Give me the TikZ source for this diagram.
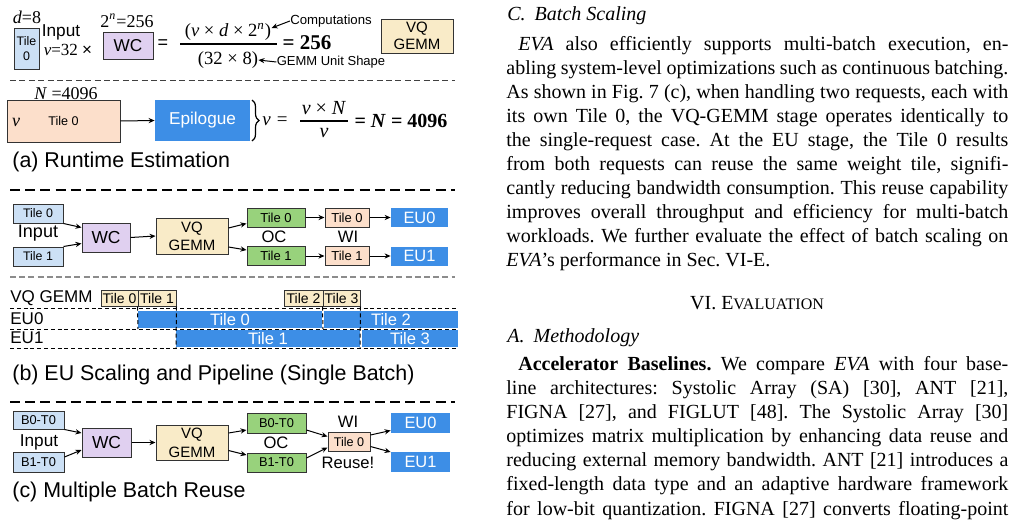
\documentclass[tikz,border=0pt]{standalone}
\usepackage{fontspec}
\setmainfont{Liberation Serif}
\setsansfont{Liberation Sans}
\usetikzlibrary{arrows.meta,calc,decorations.pathreplacing}
\definecolor{tblue}{HTML}{CCE0F5}
\definecolor{tlav}{HTML}{E0D0F0}
\definecolor{tyel}{HTML}{F9EBC8}
\definecolor{tsal}{HTML}{FCDFCB}
\definecolor{tgrn}{HTML}{98D27C}
\definecolor{teu}{HTML}{3D8EE6}
\definecolor{tbrd}{HTML}{333333}
\newcommand{\szf}[2]{\fontsize{#1}{#2}\selectfont}
\newcommand{\jl}[1]{\hbox to 251pt{#1}}
\frenchspacing
\begin{document}
\begin{tikzpicture}[x=0.5pt,y=-0.5pt,
  bx/.style={draw=tbrd, line width=0.5pt, inner sep=0pt, align=center},
  eu/.style={fill=teu, inner sep=0pt, text=white},
  lbl/.style={inner sep=0pt},
  arr/.style={-{Stealth[length=3pt,width=2.6pt]}, line width=0.5pt},
  thindash/.style={line width=0.5pt, draw=black!75, dash pattern=on 3pt off 1.7pt},
  thickdash/.style={line width=0.8pt, dash pattern=on 5pt off 2.6pt},
  graydash/.style={line width=0.9pt, draw=black!45, dash pattern=on 3pt off 1.6pt},
  tldash/.style={line width=0.5pt, dash pattern=on 2pt off 1.4pt},
  txt/.style={anchor=base west, inner sep=0pt, font=\rmfamily\szf{10}{12}\frenchspacing}]
\useasboundingbox (0,0) rectangle (1016,530);
\fill[white] (0,0) rectangle (1016,530);

% ---------------- (a) ----------------
\node[lbl, font=\rmfamily\szf{9}{10}] (dlab) at (27,17) {\textit{d}=8};
\node[bx, fill=tblue, minimum width=12.5pt, minimum height=20.5pt, font=\sffamily\szf{6.2}{7.5}] (tilea) at (26.5,48.5) {Tile\\0};
\node[lbl, font=\sffamily\szf{8.6}{10}] (inputa) at (61,32) {Input};
\node[lbl, font=\rmfamily\szf{8.5}{10}] (va) at (68,50) {\textit{v}=32 {\sffamily ×}};
\node[lbl, font=\rmfamily\szf{9}{10}] (ntop) at (127,21) {2\textsuperscript{\itshape n}=256};
\node[bx, fill=tlav, minimum width=25pt, minimum height=13.5pt, font=\sffamily\szf{8.6}{10}] (wca) at (128,45.5) {WC};
\node[lbl, font=\sffamily\szf{9}{10}] (eqa) at (163,44) {=};
\node[lbl, font=\rmfamily\szf{9.3}{10}] (numa) at (228,32) {(\textit{v} × \textit{d} × 2\textsuperscript{\itshape n})};
\node[lbl, font=\rmfamily\szf{9.3}{10}] (dena) at (228,60) {(32 × 8)};
\draw[line width=0.6pt] (180,44) -- (277,44);
\node[lbl, font=\rmfamily\bfseries\szf{10.5}{12}] (resa) at (307,43) {= 256};
\node[lbl, font=\sffamily\szf{6.6}{8}] (comp) at (331,21) {Computations};
\node[lbl, font=\sffamily\szf{6.5}{8}] (gus) at (331,62) {GEMM Unit Shape};
\draw[arr] (comp.west) -- ($(numa.east)+(0,-4)$);
\draw[arr] (gus.west) -- (dena.east);
\node[bx, fill=tyel, minimum width=36pt, minimum height=17pt, font=\sffamily\szf{7.5}{8.5}] (vqa) at (417,36) {VQ\\GEMM};
\draw[thindash] (10,80) -- (455,80);

\node[lbl, font=\rmfamily\szf{9}{10}] (nlab) at (66,94) {\textit{N} =4096};
\node[bx, fill=tsal, minimum width=56.5pt, minimum height=21pt, font=\sffamily\szf{6.3}{7}] (tsa) at (63.5,121) {Tile 0};
\node[lbl, font=\rmfamily\itshape\szf{9}{10}] (vin) at (16,122) {v};
\node[eu, minimum width=47.5pt, minimum height=20.5pt, font=\sffamily\szf{8.6}{10}] (epi) at (202.5,120.5) {Epilogue};
\draw[arr] (tsa.east) -- (epi.west);
\draw[decorate, decoration={brace, amplitude=3.5pt}, line width=0.6pt] (252,100) -- (252,141);
\node[lbl, font=\rmfamily\szf{9.5}{10}] (veq) at (275,121) {\textit{v}\hspace{3pt}=};
\node[lbl, font=\rmfamily\szf{10}{11}] (numb) at (324,108) {\textit{v} × \textit{N}};
\node[lbl, font=\rmfamily\szf{10}{11}] (denb) at (324,133) {\textit{v}};
\draw[line width=0.6pt] (300,121) -- (348,121);
\node[lbl, font=\rmfamily\bfseries\szf{10}{11}] (resb) at (401,121) {= \textit{N} = 4096};
\node[lbl, anchor=west, font=\sffamily\szf{10.7}{12}] (capa) at (12,162) {(a) Runtime Estimation};

% ---------------- (b) ----------------
\draw[thickdash] (10,190) -- (455,190);
\node[bx, fill=tblue, minimum width=25pt, minimum height=9.5pt, font=\sffamily\szf{6.2}{7}] (in0) at (38,213.5) {Tile 0};
\node[bx, fill=tblue, minimum width=25pt, minimum height=9.5pt, font=\sffamily\szf{6.2}{7}] (in1) at (38,256.5) {Tile 1};
\node[lbl, font=\sffamily\szf{9}{10}] (inpb) at (38,233) {Input};
\node[bx, fill=tlav, minimum width=24pt, minimum height=14.5pt, font=\sffamily\szf{8.7}{10}] (wcb) at (106,237.5) {WC};
\node[bx, fill=tyel, minimum width=36pt, minimum height=18pt, font=\sffamily\szf{7.5}{9}] (vqb) at (192,236) {VQ\\GEMM};
\node[bx, fill=tgrn, minimum width=29pt, minimum height=9.5pt, font=\sffamily\szf{6.5}{7}] (oc0) at (276,217.5) {Tile 0};
\node[bx, fill=tgrn, minimum width=29pt, minimum height=9.5pt, font=\sffamily\szf{6.5}{7}] (oc1) at (276,256) {Tile 1};
\node[lbl, font=\sffamily\szf{8.3}{9}] (oclab) at (274,237) {OC};
\node[bx, fill=tsal, minimum width=22pt, minimum height=9.5pt, font=\sffamily\szf{6.5}{7}] (wi0) at (347,217.5) {Tile 0};
\node[bx, fill=tsal, minimum width=22pt, minimum height=9.5pt, font=\sffamily\szf{6.5}{7}] (wi1) at (347,256) {Tile 1};
\node[lbl, font=\sffamily\szf{8.3}{9}] (wilab) at (348,237) {WI};
\node[eu, minimum width=28.5pt, minimum height=9.5pt, font=\sffamily\szf{8.2}{9}] (eub0) at (419.5,217.5) {EU0};
\node[eu, minimum width=28.5pt, minimum height=9.5pt, font=\sffamily\szf{8.2}{9}] (eub1) at (419.5,256) {EU1};
\draw[arr] (in0.south east) -- ($(wcb.west)+(0,-10)$);
\draw[arr] (in1.north east) -- ($(wcb.west)+(0,6)$);
\draw[arr] (wcb.east) -- (vqb.west);
\draw[arr] ($(vqb.east)+(0,-8)$) -- ($(oc0.west)+(0,6)$);
\draw[arr] ($(vqb.east)+(0,11)$) -- ($(oc1.west)+(0,-6)$);
\draw[arr] (oc0.east) -- (wi0.west);
\draw[arr] (oc1.east) -- (wi1.west);
\draw[arr] (wi0.east) -- (eub0.west);
\draw[arr] (wi1.east) -- (eub1.west);

% timeline
\draw[graydash] (10,277) -- (455,277);
\node[lbl, anchor=west, font=\sffamily\szf{8.5}{10}] (tlvq) at (10,298) {VQ GEMM};
\node[lbl, anchor=west, font=\sffamily\szf{8.5}{10}] (tleu0) at (10,319) {EU0};
\node[lbl, anchor=west, font=\sffamily\szf{8.5}{10}] (tleu1) at (10,338) {EU1};
\node[bx, fill=tyel, minimum width=18.5pt, minimum height=8pt, font=\sffamily\szf{7}{8}] (ty0) at (119.5,298) {Tile 0};
\node[bx, fill=tyel, minimum width=19pt, minimum height=8pt, font=\sffamily\szf{7}{8}] (ty1) at (157,298) {Tile 1};
\node[bx, fill=tyel, minimum width=19.5pt, minimum height=8pt, font=\sffamily\szf{7}{8}] (ty2) at (303.5,298) {Tile 2};
\node[bx, fill=tyel, minimum width=18.5pt, minimum height=8pt, font=\sffamily\szf{7}{8}] (ty3) at (341.5,298) {Tile 3};
\node[eu, minimum width=92pt, minimum height=8.5pt, font=\sffamily\szf{8.3}{9}] (e0t0) at (230,319.5) {Tile 0};
\node[eu, minimum width=67pt, minimum height=8.5pt, font=\sffamily\szf{8.3}{9}] (e0t2) at (391,319.5) {Tile 2};
\node[eu, minimum width=92pt, minimum height=8.5pt, font=\sffamily\szf{8.3}{9}] (e1t1) at (268,338.5) {Tile 1};
\node[eu, minimum width=48pt, minimum height=8.5pt, font=\sffamily\szf{8.3}{9}] (e1t3) at (410,338.5) {Tile 3};
\draw[tldash] (10,308) -- (458,308);
\draw[tldash] (10,329) -- (458,329);
\draw[tldash] (10,348) -- (458,348);
\draw[tldash] (ty1.south west) -- (138,329);
\draw[tldash] (ty1.south east) -- (176,348);
\draw[tldash] (ty3.south west) -- (323,329);
\draw[tldash] (ty3.south east) -- (360,348);
\node[lbl, anchor=west, font=\sffamily\szf{10.7}{12}] (capb) at (12,375) {(b) EU Scaling and Pipeline (Single Batch)};

% ---------------- (c) ----------------
\draw[thickdash] (10,402) -- (455,402);
\node[bx, fill=tblue, minimum width=25.5pt, minimum height=9pt, font=\sffamily\szf{6.4}{7}] (b0) at (38.5,420) {B0-T0};
\node[bx, fill=tblue, minimum width=25.5pt, minimum height=10pt, font=\sffamily\szf{6.4}{7}] (b1) at (38.5,462) {B1-T0};
\node[lbl, font=\sffamily\szf{8.6}{10}] (inpc) at (39,442) {Input};
\node[bx, fill=tlav, minimum width=24.5pt, minimum height=14.5pt, font=\sffamily\szf{8.7}{10}] (wcc) at (106.5,442.5) {WC};
\node[bx, fill=tyel, minimum width=36pt, minimum height=17.5pt, font=\sffamily\szf{7.5}{9.5}] (vqc) at (192,442.5) {VQ\\GEMM};
\node[bx, fill=tgrn, minimum width=29.5pt, minimum height=10pt, font=\sffamily\szf{6.4}{7}] (g0) at (276.5,423) {B0-T0};
\node[bx, fill=tgrn, minimum width=29.5pt, minimum height=9.5pt, font=\sffamily\szf{6.4}{7}] (g1) at (276.5,462.5) {B1-T0};
\node[lbl, font=\sffamily\szf{8.3}{9}] (occ) at (276,443) {OC};
\node[lbl, font=\sffamily\szf{8.3}{9}] (wic) at (348,422) {WI};
\node[bx, fill=tsal, minimum width=21pt, minimum height=9.5pt, font=\sffamily\szf{6.3}{7}] (tc) at (349,441.5) {Tile 0};
\node[lbl, font=\sffamily\szf{8.3}{9}] (reuse) at (348,463) {Reuse!};
\node[eu, minimum width=29.5pt, minimum height=10pt, font=\sffamily\szf{8.2}{9}] (euc0) at (420.5,423) {EU0};
\node[eu, minimum width=29.5pt, minimum height=10pt, font=\sffamily\szf{8.2}{9}] (euc1) at (420.5,462) {EU1};
\draw[arr] (b0.south east) -- ($(wcc.west)+(0,-9.5)$);
\draw[arr] ($(b1.east)+(0,-5)$) -- ($(wcc.west)+(0,7.5)$);
\draw[arr] (wcc.east) -- (vqc.west);
\draw[arr] ($(vqc.east)+(0,-9.5)$) -- ($(g0.west)+(0,7)$);
\draw[arr] ($(vqc.east)+(0,8)$) -- ($(g1.west)+(0,-7.5)$);
\draw[arr] ($(g0.east)+(0,7)$) -- ($(tc.west)+(0,-5)$);
\draw[arr] ($(g1.east)+(0,-4.5)$) -- ($(tc.west)+(0,6)$);
\draw[arr] ($(tc.east)+(0,-6.5)$) -- ($(euc0.west)+(0,7.5)$);
\draw[arr] ($(tc.east)+(0,5)$) -- ($(euc1.west)+(0,-10)$);
\node[lbl, anchor=west, font=\sffamily\szf{10.7}{12}] (capc) at (12,492) {(c) Multiple Batch Reuse};

% ---------------- right column ----------------
\node[txt] (hc) at (507,20) {\textit{C.\hspace{0.45em}Batch Scaling}};
\node[txt] (p1) at (506,50) {\jl{\kern6pt\textit{EVA} also efficiently supports multi-batch execution, en-}};
\node[txt] (p2) at (506,74) {\jl{abling system-level optimizations such as continuous batching.}};
\node[txt] (p3) at (506,98) {\jl{As shown in Fig. 7 (c), when handling two requests, each with}};
\node[txt] (p4) at (506,122) {\jl{its own Tile 0, the VQ-GEMM stage operates identically to}};
\node[txt] (p5) at (506,146) {\jl{the single-request case. At the EU stage, the Tile 0 results}};
\node[txt] (p6) at (506,170) {\jl{from both requests can reuse the same weight tile, signifi-}};
\node[txt] (p7) at (506,194) {\jl{cantly reducing bandwidth consumption. This reuse capability}};
\node[txt] (p8) at (506,218) {\jl{improves overall throughput and efficiency for multi-batch}};
\node[txt] (p9) at (506,242) {\jl{workloads. We further evaluate the effect of batch scaling on}};
\node[txt] (p10) at (506,266) {\textit{EVA}'s performance in Sec. VI-E.};
\node[anchor=base, inner sep=0pt, font=\rmfamily\szf{10}{12}] (hvi) at (757,309) {VI. E{\szf{8}{9}VALUATION}};
\node[txt] (ha) at (507,342) {\textit{A.\hspace{0.45em}Methodology}};
\node[txt] (q1) at (506,370) {\jl{\kern6pt\textbf{Accelerator Baselines.} We compare \textit{EVA} with four base-}};
\node[txt] (q2) at (506,394) {\jl{line architectures: Systolic Array (SA) [30], ANT [21],}};
\node[txt] (q3) at (506,418) {\jl{FIGNA [27], and FIGLUT [48]. The Systolic Array [30]}};
\node[txt] (q4) at (506,442) {\jl{optimizes matrix multiplication by enhancing data reuse and}};
\node[txt] (q5) at (506,466) {\jl{reducing external memory bandwidth. ANT [21] introduces a}};
\node[txt] (q6) at (506,490) {\jl{fixed-length data type and an adaptive hardware framework}};
\node[txt] (q7) at (506,515) {\jl{for low-bit quantization. FIGNA [27] converts floating-point}};
\end{tikzpicture}
\end{document}
